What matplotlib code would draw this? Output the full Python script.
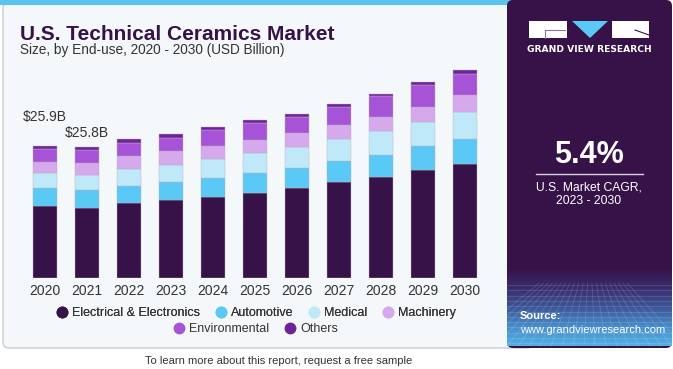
import numpy as np
import matplotlib.pyplot as plt
from matplotlib.patches import FancyBboxPatch, Rectangle, Polygon
from matplotlib.lines import Line2D
from matplotlib.colors import LinearSegmentedColormap

years = ['2020', '2021', '2022', '2023', '2024', '2025', '2026', '2027', '2028', '2029', '2030']
electrical = [14.13, 13.85, 14.71, 15.37, 16.02, 16.80, 17.66, 18.83, 19.82, 21.19, 22.37]
automotive = [3.59, 3.47, 3.40, 3.53, 3.66, 3.80, 3.99, 4.18, 4.45, 4.71, 4.97]
medical = [2.88, 2.94, 3.34, 3.40, 3.73, 3.92, 4.05, 4.38, 4.58, 4.77, 5.30]
machinery = [2.28, 2.42, 2.55, 2.68, 2.55, 2.62, 2.81, 2.68, 2.81, 2.94, 3.34]
environmental = [2.49, 2.55, 2.62, 2.62, 3.14, 3.40, 3.20, 3.60, 4.12, 4.32, 4.18]
others = [0.53, 0.57, 0.67, 0.72, 0.55, 0.45, 0.52, 0.59, 0.46, 0.52, 0.78]
labels = ['$25.9B', '$25.8B']

series = [
    ('Electrical & Electronics', electrical, '#371249'),
    ('Automotive', automotive, '#5bc9f6'),
    ('Medical', medical, '#bfe9f9'),
    ('Machinery', machinery, '#d6a8ec'),
    ('Environmental', environmental, '#a653d8'),
    ('Others', others, '#6e2498'),
]

W, H = 673, 369
plt.rcParams['font.family'] = ['Liberation Sans', 'DejaVu Sans']
fig = plt.figure(figsize=(W / 100, H / 100), dpi=100)
fig.patch.set_facecolor('white')


def px(x, y):
    # pixel position (from top-left) to figure fraction
    return x / W, 1 - y / H


# background layer in pixel coords
bg = fig.add_axes([0, 0, 1, 1])
bg.set_xlim(0, W)
bg.set_ylim(H, 0)
bg.axis('off')

bg.add_patch(FancyBboxPatch((3, 3), 530, 345, boxstyle='round,pad=0,rounding_size=6',
                            fc='#f4f8fb', ec='#c9cdd2', lw=1, zorder=1))
bg.add_patch(Rectangle((0, 0), 520, 5, fc='#5bc3ec', ec='none', zorder=1.1))
bg.add_patch(FancyBboxPatch((507, 0), 165, 348, boxstyle='round,pad=0,rounding_size=6',
                            fc='#371249', ec='none', zorder=1.5))

# logo
bg.add_patch(Rectangle((529, 21), 38, 16.5, fc='white', ec='none', zorder=3))
bg.plot([545, 565], [30, 30], color='#8a7a96', lw=0.8, zorder=4)
bg.plot([545, 545], [30, 37.5], color='#8a7a96', lw=0.8, zorder=4)
bg.add_patch(Polygon([(572, 21), (608, 21), (590, 38)], fc='#5bc9f6', ec='none', zorder=3))
bg.add_patch(Rectangle((612, 21), 37, 16.5, fc='white', ec='none', zorder=3))
bg.plot([635, 649], [30, 35], color='#371249', lw=0.8, zorder=4)
bg.plot([536, 643], [173.5, 173.5], color='#d9cfe0', lw=1, zorder=4)

# gradient with grid at the bottom of the right panel, own axes
gy0, gy1 = 268, 346
gax = fig.add_axes([507 / W, 1 - gy1 / H, 165 / W, (gy1 - gy0) / H])
gax.axis('off')
cmap = LinearSegmentedColormap.from_list('g', ['#371249', '#3a2c6c', '#3c5597', '#478cca', '#52b0e4'])
gax.imshow(np.linspace(0, 1, 200)[:, None], cmap=cmap, aspect='auto',
           extent=(0, 165, gy1, gy0), origin='upper', interpolation='bilinear')
gax.set_xlim(0, 165)
gax.set_ylim(gy1, gy0)
for k in range(12):
    y = 285 + k * 5.3
    gax.plot([0, 165], [y, y], color='white', alpha=0.15, lw=0.6)
for k in range(-4, 17):
    x0 = k * 11
    xt = 83 + (x0 - 83) * 0.4
    gax.plot([xt, x0], [283, gy1], color='white', alpha=0.15, lw=0.6)
gax.set_xlim(0, 165)
gax.set_ylim(gy1, gy0)

# texts of the right panel on top of everything
fig.text(*px(589, 50), 'GRAND VIEW RESEARCH', color='white', fontsize=6.6, fontweight='bold',
         ha='center', va='center', family='DejaVu Sans')
fig.text(*px(589, 155), '5.4%', color='white', fontsize=22, fontweight='bold', ha='center', va='center')
fig.text(*px(589, 187), 'U.S. Market CAGR,', color='white', fontsize=8.7, ha='center', va='center')
fig.text(*px(589, 201), '2023 - 2030', color='white', fontsize=8.7, ha='center', va='center')
fig.text(*px(520, 316), 'Source:', color='white', fontsize=8, fontweight='bold', ha='left', va='center')
fig.text(*px(520, 330), 'www.grandviewresearch.com', color='white', fontsize=8, ha='left', va='center')

fig.text(*px(20, 34), 'U.S. Technical Ceramics Market', color='#371249', fontsize=15, fontweight='bold',
         ha='left', va='center')
fig.text(*px(20, 50), 'Size, by End-use, 2020 - 2030 (USD Billion)', color='#333333', fontsize=9.8,
         ha='left', va='center')
fig.text(*px(145, 361), 'To learn more about this report, request a free sample', color='#333333',
         fontsize=8, ha='left', va='center')

# chart axes
left, right, base, top = 24, 486, 278.3, 60
ax = fig.add_axes([left / W, (H - base) / H, (right - left) / W, (base - top) / H])
ax.patch.set_alpha(0)
x = np.arange(len(years))
bottom = np.zeros(len(years))
for name, vals, col in series:
    ax.bar(x, vals, 0.57, bottom=bottom, color=col, label=name, edgecolor='#b9b0c2', linewidth=0.3)
    bottom += np.array(vals)

ax.text(x[0], bottom[0] + 5.7, labels[0], ha='center', va='center', fontsize=10, color='#333333')
ax.text(x[1], bottom[1] + 2.7, labels[1], ha='center', va='center', fontsize=10, color='#333333')

ax.set_xlim(-0.5, len(years) - 0.5)
ax.set_ylim(0, (base - top) / 5.097)
ax.set_xticks(x)
ax.set_xticklabels(years, fontsize=10, color='#333333')
ax.tick_params(axis='x', length=0, pad=4)
ax.set_yticks([])
for s in ax.spines.values():
    s.set_visible(False)

handles = [Line2D([], [], marker='o', ls='none', ms=7.5, mfc=c, mec=c) for _, _, c in series]
names = [n for n, _, _ in series]
leg1 = fig.legend(handles[:4], names[:4], loc='center', bbox_to_anchor=px(254, 313),
                  ncol=4, frameon=False, fontsize=9, handletextpad=0.05, columnspacing=0.9,
                  labelcolor='#333333', borderpad=0, handlelength=1.5)
fig.legend(handles[4:], names[4:], loc='center', bbox_to_anchor=px(254, 329),
           ncol=2, frameon=False, fontsize=9, handletextpad=0.05, columnspacing=0.9,
           labelcolor='#333333', borderpad=0, handlelength=1.5)
fig.add_artist(leg1)

fig.savefig('out.png', dpi=100)
